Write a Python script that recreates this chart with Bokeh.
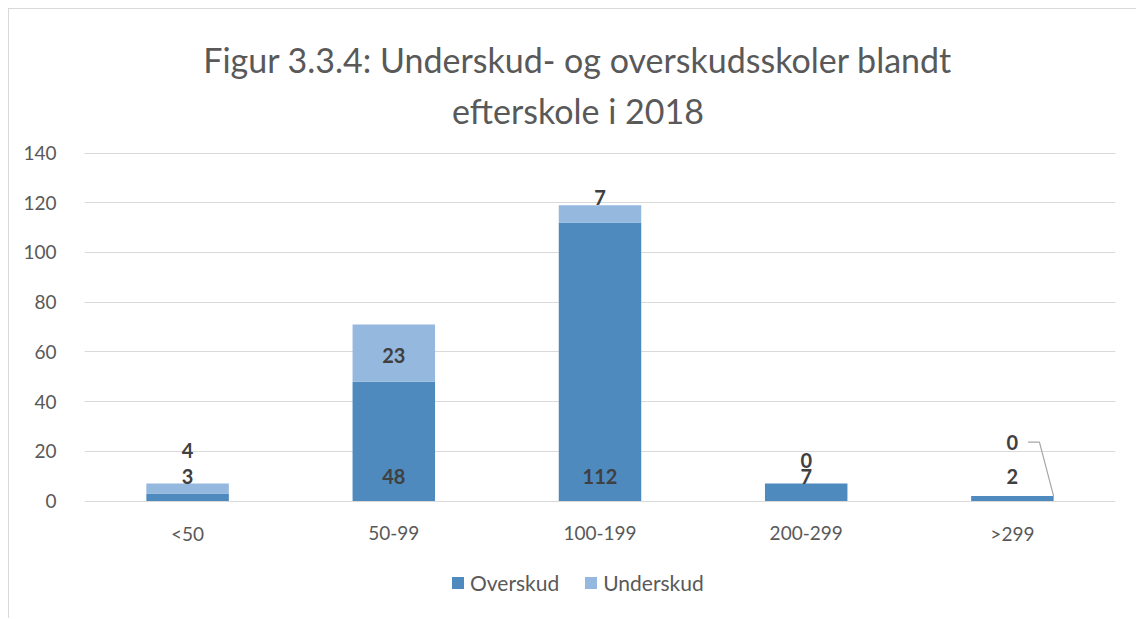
from bokeh.plotting import figure
from bokeh.models import ColumnDataSource, FactorRange, Range1d, Legend, LegendItem, FixedTicker
from bokeh.core.properties import value
from bokeh.embed import file_html
from bokeh.resources import INLINE

# ---- data ----
categories = ["<50", "50-99", "100-199", "200-299", ">299"]
overskud = [3, 48, 112, 7, 2]
underskud = [4, 23, 7, 0, 0]
series_names = ["Overskud", "Underskud"]
y_ticks = [0, 20, 40, 60, 80, 100, 120, 140]
title_lines = ["Figur 3.3.4: Underskud- og overskudsskoler blandt", "efterskole i 2018"]

# ---- style / layout (page pixels of the reference) ----
FONT = "Lato"
C_OVER = "#4E8ABE"
C_UNDER = "#95B8DF"
TXT = "#595959"
LBL = "#404040"
W, H = 1128, 610
ML, MR = 75, 22
TOP_PX, BOT_PX = 9, 619          # frame spans the full figure height
Y0_PX, Y140_PX = 500.5, 152.5    # where 0 and 140 sit
PPU = (Y0_PX - Y140_PX) / 140.0
FRAME_L, CAT_W = 84, 206.0
bar_w = 0.4
under_nudge = [-38, 2, -16, -23, -54]   # px nudges of Underskud labels


def y_of(py):
    return (Y0_PX - py) / PPU


def x_of(px):
    return (px - FRAME_L) / CAT_W


p = figure(x_range=FactorRange(*categories, range_padding=0, factor_padding=0),
           y_range=Range1d(y_of(BOT_PX), y_of(TOP_PX)), width=W, height=H,
           output_backend="svg", toolbar_location=None, x_axis_location=None,
           min_border_left=ML, min_border_right=MR, min_border_top=0, min_border_bottom=0)
p.title = None
p.styles = {"border-left": "1px solid #d9d9d9", "border-top": "1px solid #d9d9d9",
            "margin-left": "8px", "margin-top": "8px"}
p.outline_line_color = None
p.background_fill_color = "white"
p.border_fill_color = "white"

src = ColumnDataSource(dict(cat=categories, Overskud=overskud, Underskud=underskud,
                            mid=[o + u / 2 for o, u in zip(overskud, underskud)],
                            olab=[str(v) for v in overskud],
                            ulab=[str(v) for v in underskud],
                            unudge=under_nudge))

rs = p.vbar_stack(series_names, x="cat", width=bar_w, source=src,
                  color=[C_OVER, C_UNDER], line_color=None)

# category labels (x axis)
p.text(x=categories, y=[0] * len(categories), text=categories, y_offset=32,
       text_font=value(FONT), text_font_size="19px", text_color=TXT,
       text_align="center", text_baseline="middle")

# data labels
p.text(x="cat", y=0, text="olab", source=src, y_offset=-25,
       text_font=value(FONT), text_font_style="bold", text_font_size="20px",
       text_color=LBL, text_align="center", text_baseline="middle")
p.text(x="cat", y="mid", text="ulab", source=src, y_offset="unudge",
       text_font=value(FONT), text_font_style="bold", text_font_size="20px",
       text_color=LBL, text_align="center", text_baseline="middle")

# leader line for last Underskud label
i = len(categories) - 1
lab_y = overskud[i] + underskud[i] / 2 + (-under_nudge[i]) / PPU
p.line(x=[i + 0.5 + 0.076, i + 0.5 + 0.131, i + 0.5 + bar_w / 2],
       y=[lab_y, lab_y, overskud[i] + underskud[i]],
       line_color="#a6a6a6", line_width=1.2)

# y axis
p.yaxis.ticker = FixedTicker(ticks=y_ticks)
ax = p.yaxis[0]
ax.axis_line_color = None
ax.major_tick_line_color = None
ax.minor_tick_line_color = None
ax.major_label_text_font = FONT
ax.major_label_text_font_size = "19px"
ax.major_label_text_color = TXT
ax.major_label_standoff = 22
p.xgrid.grid_line_color = None
p.ygrid.grid_line_color = "#d9d9d9"
p.ygrid.grid_line_width = 1

# title (two centred lines)
tx = x_of(577)
p.text(x=[tx, tx], y=[y_of(59), y_of(110)], text=title_lines,
       text_font=value(FONT), text_font_size="34px", text_color=TXT,
       text_align="center", text_baseline="alphabetic")

legend = Legend(items=[LegendItem(label=n, renderers=[r]) for n, r in zip(series_names, rs)],
                orientation="horizontal", location=(450 - FRAME_L, BOT_PX - 595),
                glyph_width=15, glyph_height=15, label_standoff=5, spacing=24,
                padding=0, margin=0, border_line_color=None, background_fill_alpha=0,
                label_text_font=FONT, label_text_font_size="21px", label_text_color=TXT,
                label_height=15)
p.add_layout(legend, "center")

open("out.html", "w").write(file_html(p, INLINE))
